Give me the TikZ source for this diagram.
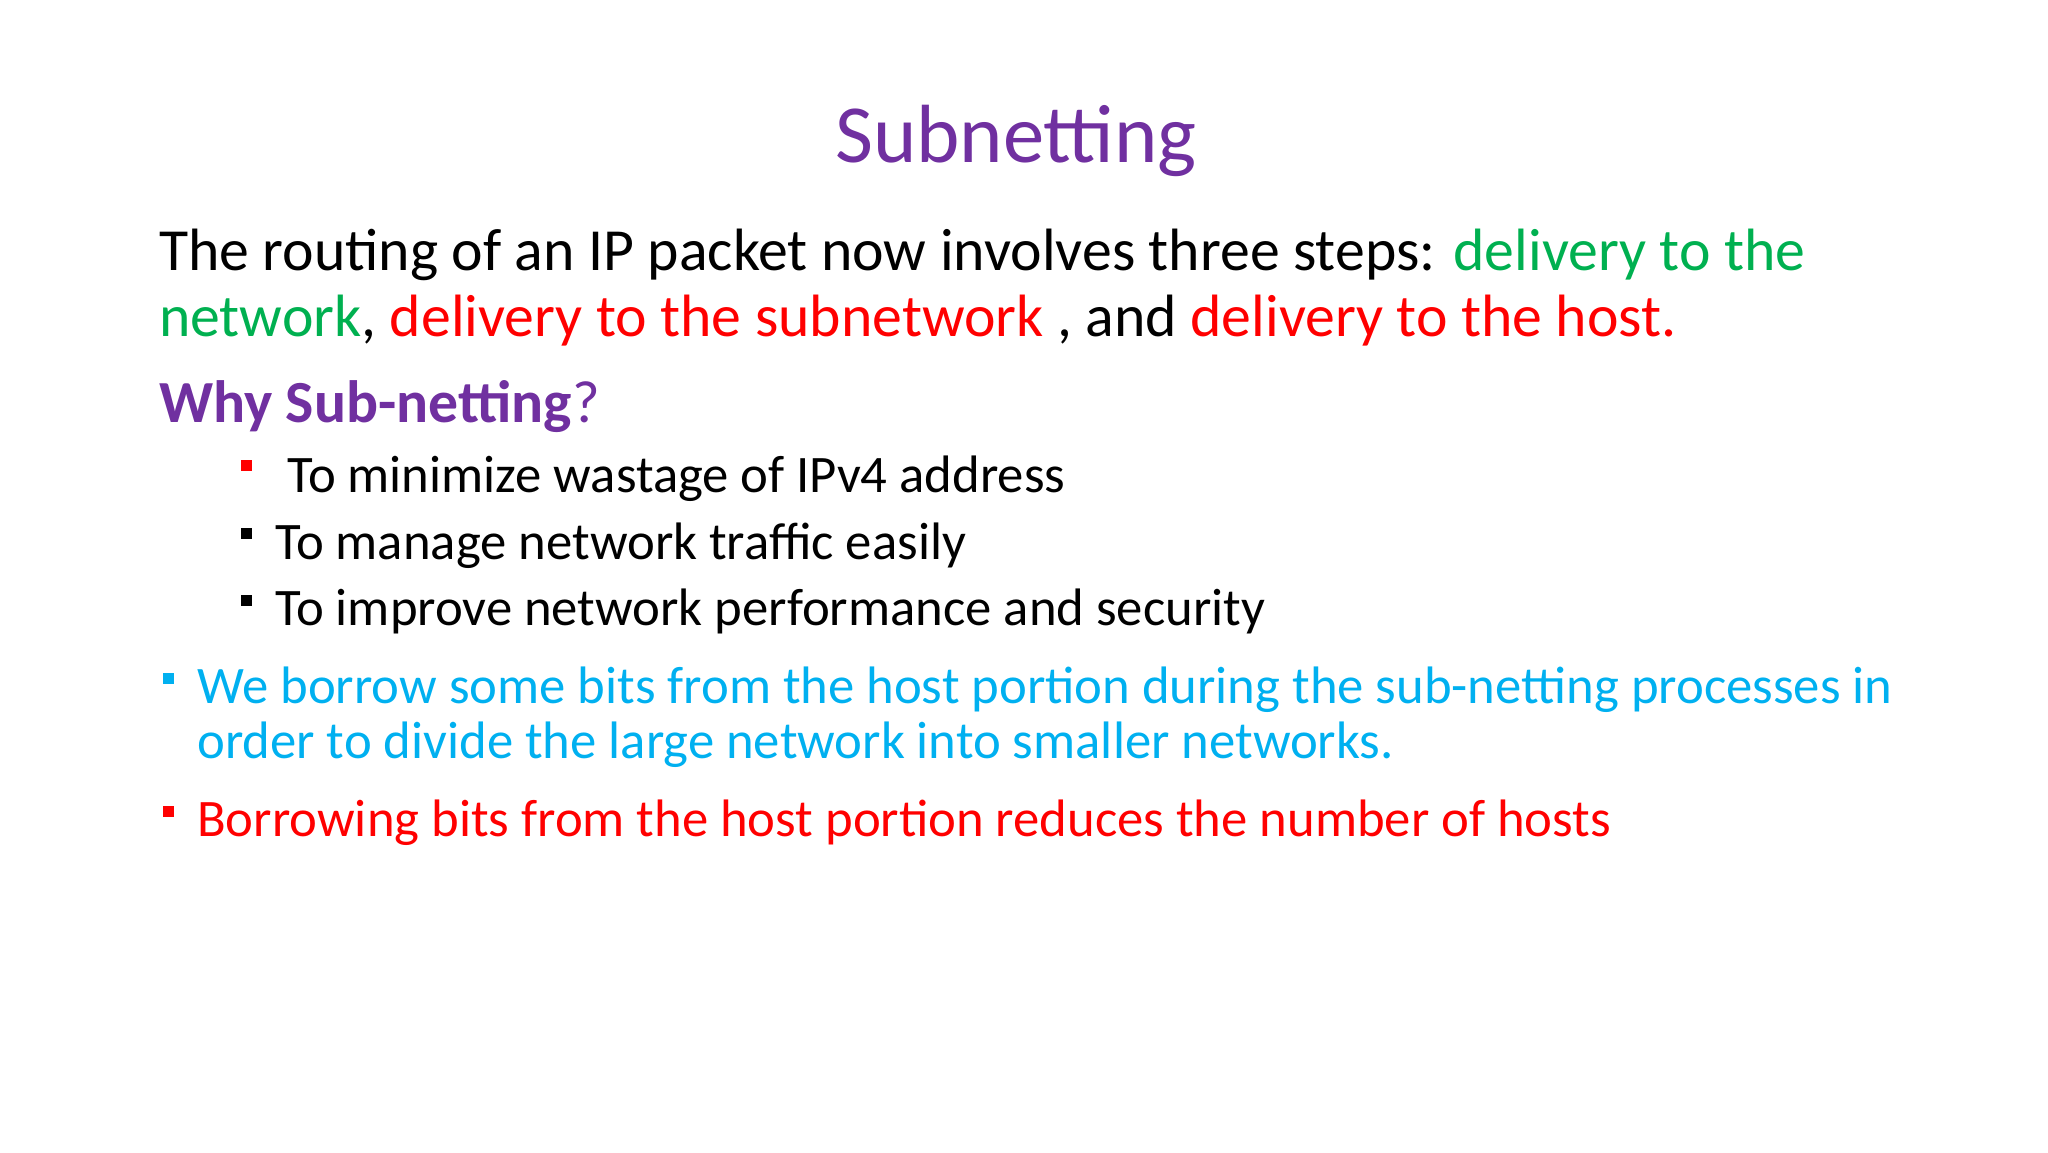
\documentclass[tikz,border=0pt]{standalone}
\usepackage{fontspec}
\setmainfont{Carlito}
\definecolor{purp}{RGB}{112,48,160}
\definecolor{grn}{RGB}{0,176,80}
\definecolor{rd}{RGB}{255,0,0}
\definecolor{blu}{RGB}{0,176,240}
\begin{document}
\begin{tikzpicture}[x=0.013196cm,y=-0.013196cm,
  big/.style={anchor=base west,inner sep=0pt,font=\fontsize{17}{20}\selectfont},
  mid/.style={anchor=base west,inner sep=0pt,font=\fontsize{15}{18}\selectfont},
  sq/.style={inner sep=0pt,minimum size=0.11cm,fill=#1}]
\useasboundingbox (0,0) rectangle (1552,873);
\node[anchor=base,inner sep=0pt,font=\fontsize{23.5}{28}\selectfont,text=purp] (title) at (770,123) {Subnetting};
\node[big] (l1) at (120,205) {The routing of an IP packet now involves three steps: \textcolor{grn}{delivery to the}};
\node[big] (l2) at (120,255) {\textcolor{grn}{network}, \textcolor{rd}{delivery to the subnetwork} , and \textcolor{rd}{delivery to the host.}};
\node[big,text=purp] (why) at (120,320) {\textbf{Why Sub-netting}?};
\node[sq=rd] (b1) at (187,353) {};
\node[mid] (t1) at (217,373) {To minimize wastage of IPv4 address};
\node[sq=black] (b2) at (187,404) {};
\node[mid] (t2) at (208,424) {To manage network traffic easily};
\node[sq=black] (b3) at (187,455) {};
\node[mid] (t3) at (208,474) {To improve network performance and security};
\node[sq=blu] (b4) at (128,514) {};
\node[mid,text=blu] (t4) at (149,533) {We borrow some bits from the host portion during the sub-netting processes in};
\node[mid,text=blu] (t5) at (149,575) {order to divide the large network into smaller networks.};
\node[sq=rd] (b5) at (128,615) {};
\node[mid,text=rd] (t6) at (149,634) {Borrowing bits from the host portion reduces the number of hosts};
\end{tikzpicture}
\end{document}
